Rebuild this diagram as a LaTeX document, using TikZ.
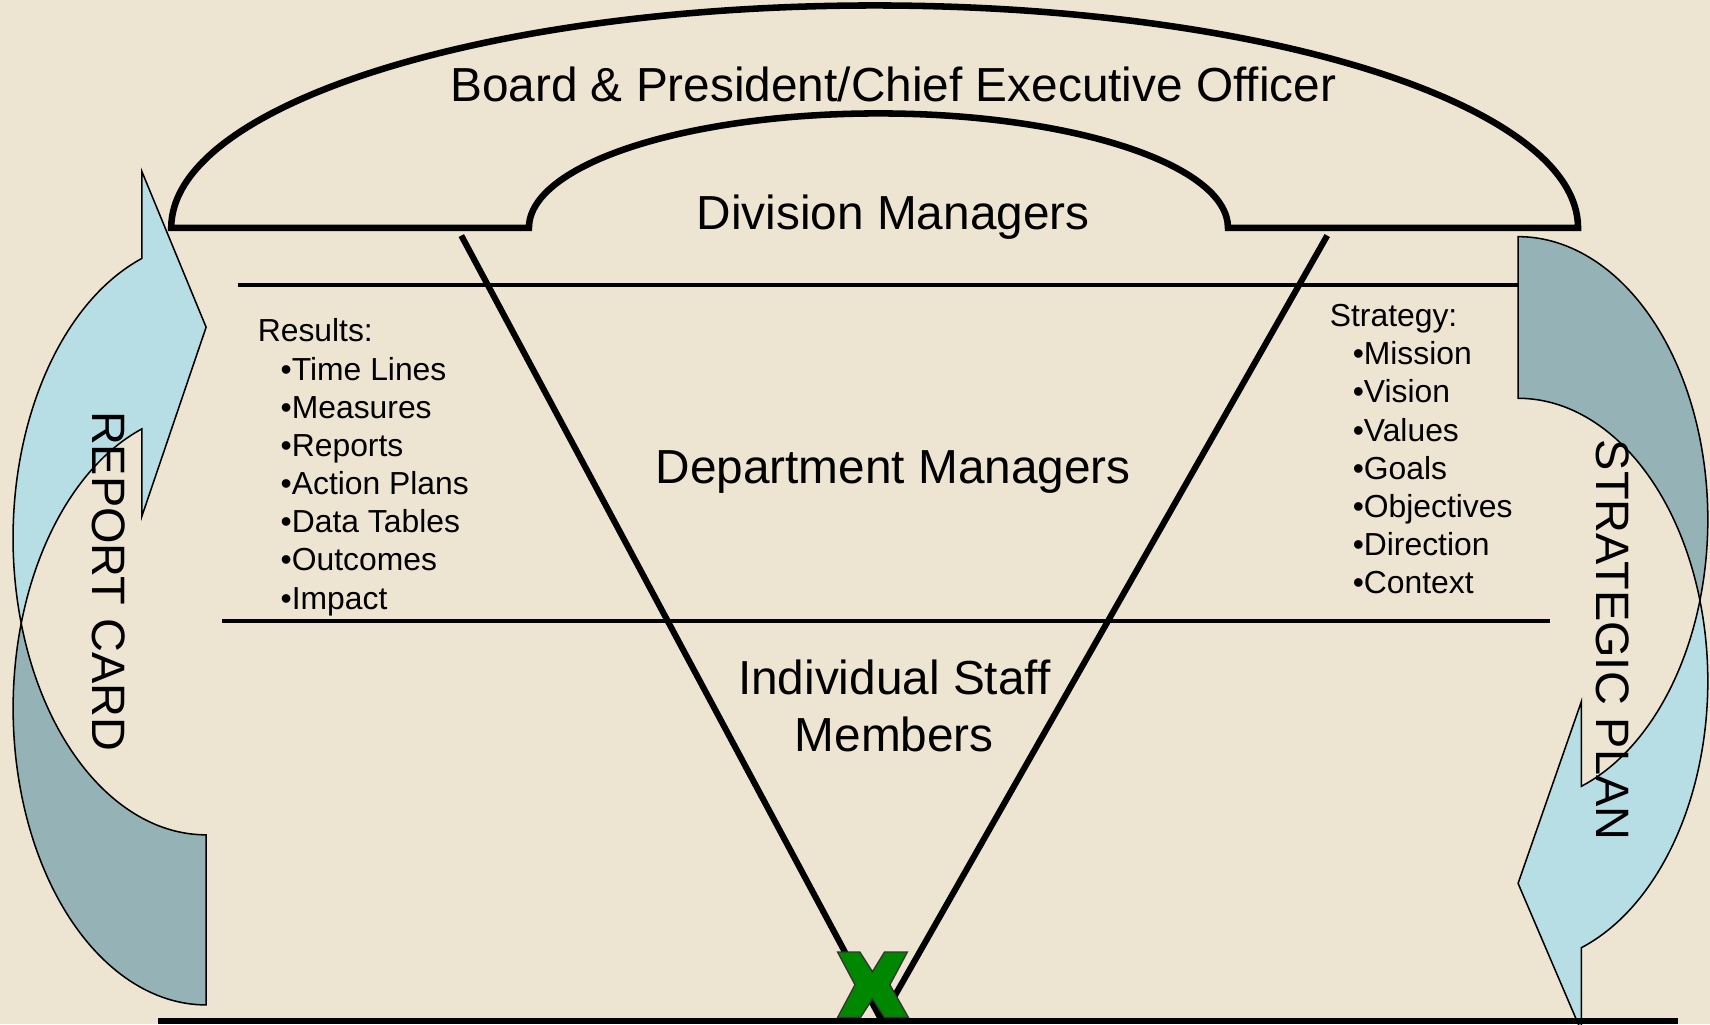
\documentclass[tikz,border=0pt]{standalone}
\usepackage{fontspec}
\setmainfont{Liberation Sans}
\definecolor{paper}{RGB}{237,228,210}
\definecolor{arrowlight}{RGB}{183,222,228}
\definecolor{arrowdark}{RGB}{149,179,182}
\definecolor{xgreen}{RGB}{0,135,0}
\tikzset{
  level/.style={font=\fontsize{21.9}{26}\selectfont, inner sep=0pt},
  listitem/.style={font=\fontsize{14.6}{17.6}\selectfont, inner sep=0pt, anchor=base west},
  sidelabel/.style={font=\fontsize{21.5}{26}\selectfont, inner sep=0pt, rotate=-90},
  rule/.style={line width=1.85pt},
  vline/.style={line width=2.8pt},
  band/.style={draw=black, line width=0.7pt, line join=miter}
}
\begin{document}
\begin{tikzpicture}[x=0.5pt, y=-0.5pt]
  \useasboundingbox (0,0) rectangle (1568,939);
  \clip (0,0) rectangle (1568,939);
  \fill[paper] (0,0) rectangle (1568,939);

  % report card arrow
  \filldraw[band, fill=arrowdark] (19.5,571.3)
    arc[start angle=196.7, end angle=90, x radius=177, y radius=272]
    -- (189,765.5)
    arc[start angle=90, end angle=163.3, x radius=177, y radius=272] -- cycle;
  \filldraw[band, fill=arrowlight] (130,237)
    arc[start angle=250.53, end angle=163.3, x radius=177, y radius=272]
    arc[start angle=196.7, end angle=250.53, x radius=177, y radius=272]
    -- (130,473.7) -- (189,300) -- (130,157) -- cycle;

  % strategic plan arrow
  \filldraw[band, fill=arrowdark] (1392,217)
    arc[start angle=270, end angle=376.6, x radius=174, y radius=259.4]
    arc[start angle=343.4, end angle=270, x radius=174, y radius=259.4] -- cycle;
  \filldraw[band, fill=arrowlight] (1558.7,550.4)
    arc[start angle=343.4, end angle=430.53, x radius=174, y radius=259.4]
    -- (1450,945.5) -- (1392,810) -- (1450,643.4) -- (1450,721)
    arc[start angle=70.53, end angle=16.6, x radius=174, y radius=259.4] -- cycle;

  % level rules
  \coordinate (topL) at (218,261);
  \coordinate (topR) at (1392,261);
  \coordinate (midL) at (204,569);
  \coordinate (midR) at (1421,569);
  \coordinate (baseL) at (145,936);
  \coordinate (baseR) at (1539,936);
  \draw[rule] (topL) -- (topR);
  \draw[rule] (midL) -- (midR);

  % the V
  \coordinate (apex) at (808,935);
  \coordinate (vleft) at (423,216);
  \coordinate (vright) at (1217,216);
  \draw[vline] (vleft) -- (apex);
  \draw[vline] (vright) -- (apex);

  % arches
  \draw[line width=3pt, line join=miter] (157,209) -- (485,209)
    arc[start angle=180, end angle=360, x radius=320.5, y radius=105]
    -- (1447,209)
    arc[start angle=0, end angle=-180, x radius=645, y radius=204] -- cycle;

  % green X
  \filldraw[fill=xgreen, draw=black!80, line width=0.6pt]
    (768,873) -- (788.5,873) -- (800,891) -- (811,873) -- (832,873)
    -- (816,903) -- (833,933) -- (811,933) -- (800,916) -- (789,933)
    -- (768,933) -- (784,903) -- cycle;
  \draw[line width=3pt] (baseL) -- (baseR);

  \node[level, anchor=base] (board) at (819,93) {Board \& President/Chief Executive Officer};
  \node[level, anchor=base] (division) at (819,210) {Division Managers};
  \node[level, anchor=base] (dept) at (819,443) {Department Managers};
  \node[level, align=center] (staff) at (820,647) {Individual Staff\\Members};

  \node[listitem] (results) at (236,313.5) {Results:};
  \foreach \entry [count=\i] in {Time Lines, Measures, Reports, Action Plans, Data Tables, Outcomes, Impact}
    \node[listitem] (result\i) at (257,313.5+35*\i) {•\entry};

  \node[listitem] (strategy) at (1219,299.5) {Strategy:};
  \foreach \entry [count=\i] in {Mission, Vision, Values, Goals, Objectives, Direction, Context}
    \node[listitem] (strategy\i) at (1240,299.5+35*\i) {•\entry};

  \node[sidelabel] (report) at (100,533) {REPORT CARD};
  \node[sidelabel] (plan) at (1479,587) {STRATEGIC PLAN};
\end{tikzpicture}
\end{document}
